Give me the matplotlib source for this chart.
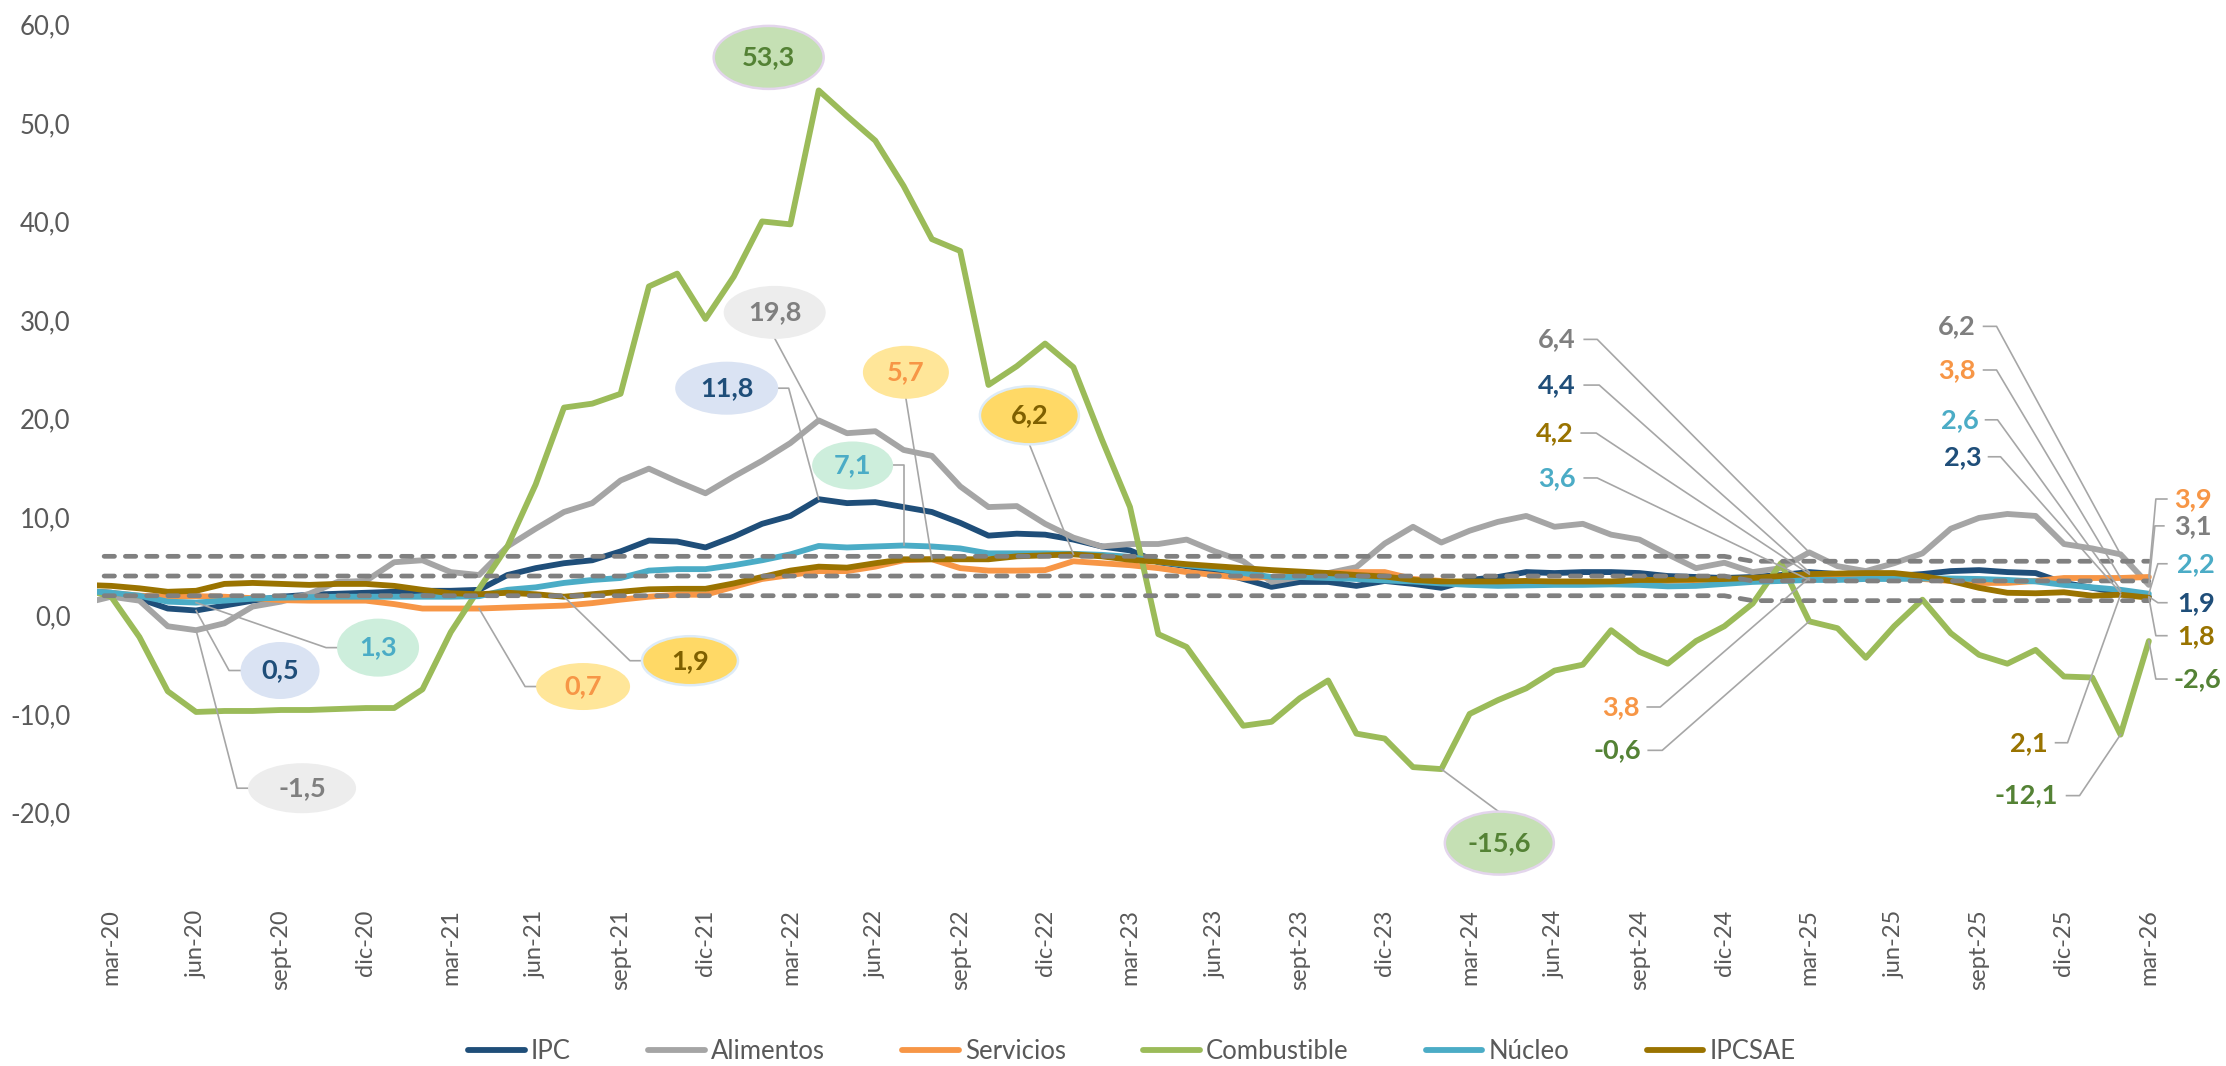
import numpy as np
import matplotlib
matplotlib.use("Agg")
import matplotlib.pyplot as plt
import matplotlib.transforms as mtransforms
from matplotlib.patches import Ellipse
from matplotlib.lines import Line2D

plt.rcParams["font.family"] = ["Lato", "DejaVu Sans"]

# ---------------------------------------------------------------- data
MONTHS = ["ene", "feb", "mar", "abr", "may", "jun",
          "jul", "ago", "sept", "oct", "nov", "dic"]
# monthly periods feb-20 ... mar-26 (feb-20 only feeds the clipped left edge)
periods = [f"{MONTHS[(1 + k) % 12]}-{20 + (1 + k) // 12}" for k in range(74)]

ipc = [2.5,
       2.3, 1.7, 0.7, 0.5, 1.0, 1.5, 1.9, 2.1, 2.2, 2.3, 2.4, 2.5,
       2.5, 2.6, 4.1, 4.8, 5.3, 5.6, 6.5, 7.6, 7.5, 6.9, 8.0, 9.3,
       10.1, 11.8, 11.4, 11.5, 11.0, 10.5, 9.4, 8.1, 8.3, 8.2, 7.7, 7.0,
       6.6, 5.4, 5.0, 4.5, 3.7, 2.9, 3.4, 3.4, 3.0, 3.5, 3.2, 2.8,
       3.6, 3.9, 4.4, 4.3, 4.4, 4.4, 4.3, 4.0, 3.9, 3.8, 3.9, 4.1,
       4.4, 4.2, 4.0, 4.0, 4.2, 4.5, 4.6, 4.4, 4.3, 3.3, 2.8, 2.3, 1.9]

alimentos = [1.2,
             1.9, 1.5, -1.1, -1.5, -0.8, 0.9, 1.4, 2.2, 3.4, 3.5, 5.4, 5.6,
             4.4, 4.1, 7.0, 8.8, 10.5, 11.4, 13.7, 14.9, 13.6, 12.4, 14.1, 15.7,
             17.5, 19.8, 18.5, 18.7, 16.8, 16.2, 13.1, 11.0, 11.1, 9.3, 7.9, 7.0,
             7.25, 7.25, 7.7, 6.5, 5.5, 3.4, 3.9, 4.3, 4.9, 7.3, 9.0, 7.4,
             8.6, 9.5, 10.1, 9.0, 9.3, 8.2, 7.7, 6.2, 4.8, 5.35, 4.4, 4.8,
             6.4, 5.0, 4.5, 5.3, 6.3, 8.8, 9.9, 10.3, 10.1, 7.25, 6.8, 6.2, 3.1]

servicios = [2.4,
             2.3, 2.0, 1.9, 1.95, 1.9, 1.75, 1.55, 1.5, 1.5, 1.5, 1.15, 0.7,
             0.7, 0.7, 0.8, 0.9, 1.0, 1.25, 1.6, 1.9, 2.1, 2.1, 2.9, 3.7,
             4.1, 4.5, 4.5, 4.95, 5.6, 5.7, 4.8, 4.55, 4.55, 4.6, 5.5, 5.3,
             5.1, 4.8, 4.4, 4.1, 3.8, 3.9, 4.1, 4.3, 4.4, 4.4, 3.7, 3.5,
             3.2, 3.2, 3.3, 3.3, 3.3, 3.4, 3.5, 3.5, 3.6, 3.6, 3.7, 3.8,
             3.8, 3.9, 3.9, 3.8, 3.7, 3.5, 3.3, 3.3, 3.5, 3.8, 3.8, 3.8, 3.9]

combustible = [2.7,
               1.9, -2.2, -7.7, -9.8, -9.7, -9.7, -9.6, -9.6, -9.5, -9.4, -9.4, -7.5,
               -1.7, 2.7, 7.0, 13.3, 21.1, 21.5, 22.5, 33.4, 34.7, 30.1, 34.4, 40.0,
               39.7, 53.3, 50.7, 48.2, 43.6, 38.2, 37.0, 23.4, 25.3, 27.6, 25.2, 17.9,
               11.0, -1.9, -3.2, -7.2, -11.2, -10.8, -8.4, -6.6, -12.0, -12.5, -15.4, -15.6,
               -10.0, -8.6, -7.4, -5.6, -5.0, -1.5, -3.7, -4.9, -2.6, -1.1, 1.2, 5.3,
               -0.6, -1.3, -4.3, -1.1, 1.6, -1.8, -4.0, -4.9, -3.5, -6.2, -6.3, -12.1, -2.6]

nucleo = [2.5,
          2.3, 2.0, 1.4, 1.3, 1.5, 1.7, 1.8, 1.85, 1.9, 1.9, 1.9, 1.9,
          1.9, 1.95, 2.6, 2.85, 3.3, 3.6, 3.8, 4.55, 4.7, 4.7, 5.1, 5.6,
          6.2, 7.05, 6.9, 7.0, 7.1, 7.0, 6.8, 6.3, 6.3, 6.3, 6.25, 6.15,
          5.95, 5.45, 5.1, 4.8, 4.3, 3.9, 3.9, 3.8, 3.7, 3.55, 3.45, 3.25,
          3.1, 3.0, 3.05, 3.1, 3.1, 3.15, 3.1, 2.95, 3.0, 3.2, 3.4, 3.5,
          3.6, 3.6, 3.7, 3.7, 3.75, 3.75, 3.7, 3.6, 3.45, 3.1, 2.85, 2.6, 2.2]

ipcsae = [3.1,
          3.0, 2.75, 2.4, 2.5, 3.2, 3.3, 3.2, 3.1, 3.2, 3.2, 3.0, 2.6,
          2.25, 2.15, 2.3, 2.15, 1.9, 2.15, 2.4, 2.65, 2.7, 2.7, 3.25, 3.9,
          4.55, 4.95, 4.85, 5.3, 5.7, 5.7, 5.7, 5.7, 6.0, 6.1, 6.2, 6.0,
          5.65, 5.45, 5.2, 5.0, 4.8, 4.6, 4.45, 4.3, 4.1, 3.95, 3.6, 3.45,
          3.45, 3.45, 3.5, 3.45, 3.45, 3.45, 3.6, 3.6, 3.65, 3.7, 3.8, 4.0,
          4.2, 4.25, 4.3, 4.3, 4.0, 3.5, 2.8, 2.3, 2.25, 2.35, 2.0, 2.1, 1.8]

# inflation target band (upper, centre, lower)
meta_sup = [6.0, 6.0, 6.0, 6.0, 6.0, 6.0, 6.0, 6.0, 6.0, 6.0, 6.0, 6.0, 6.0,
            6.0, 6.0, 6.0, 6.0, 6.0, 6.0, 6.0, 6.0, 6.0, 6.0, 6.0, 6.0,
            6.0, 6.0, 6.0, 6.0, 6.0, 6.0, 6.0, 6.0, 6.0, 6.0, 6.0, 6.0,
            6.0, 6.0, 6.0, 6.0, 6.0, 6.0, 6.0, 6.0, 6.0, 6.0, 6.0, 6.0,
            6.0, 6.0, 6.0, 6.0, 6.0, 6.0, 6.0, 6.0, 6.0, 6.0, 5.5, 5.5,
            5.5, 5.5, 5.5, 5.5, 5.5, 5.5, 5.5, 5.5, 5.5, 5.5, 5.5, 5.5, 5.5]
meta_centro = [4.0, 4.0, 4.0, 4.0, 4.0, 4.0, 4.0, 4.0, 4.0, 4.0, 4.0, 4.0, 4.0,
               4.0, 4.0, 4.0, 4.0, 4.0, 4.0, 4.0, 4.0, 4.0, 4.0, 4.0, 4.0,
               4.0, 4.0, 4.0, 4.0, 4.0, 4.0, 4.0, 4.0, 4.0, 4.0, 4.0, 4.0,
               4.0, 4.0, 4.0, 4.0, 4.0, 4.0, 4.0, 4.0, 4.0, 4.0, 4.0, 4.0,
               4.0, 4.0, 4.0, 4.0, 4.0, 4.0, 4.0, 4.0, 4.0, 4.0, 3.5, 3.5,
               3.5, 3.5, 3.5, 3.5, 3.5, 3.5, 3.5, 3.5, 3.5, 3.5, 3.5, 3.5, 3.5]
meta_inf = [2.0, 2.0, 2.0, 2.0, 2.0, 2.0, 2.0, 2.0, 2.0, 2.0, 2.0, 2.0, 2.0,
            2.0, 2.0, 2.0, 2.0, 2.0, 2.0, 2.0, 2.0, 2.0, 2.0, 2.0, 2.0,
            2.0, 2.0, 2.0, 2.0, 2.0, 2.0, 2.0, 2.0, 2.0, 2.0, 2.0, 2.0,
            2.0, 2.0, 2.0, 2.0, 2.0, 2.0, 2.0, 2.0, 2.0, 2.0, 2.0, 2.0,
            2.0, 2.0, 2.0, 2.0, 2.0, 2.0, 2.0, 2.0, 2.0, 2.0, 1.5, 1.5,
            1.5, 1.5, 1.5, 1.5, 1.5, 1.5, 1.5, 1.5, 1.5, 1.5, 1.5, 1.5, 1.5]

series = {
    "IPC": ipc,
    "Alimentos": alimentos,
    "Servicios": servicios,
    "Combustible": combustible,
    "Núcleo": nucleo,
    "IPCSAE": ipcsae,
}

yticks = [-20, -10, 0, 10, 20, 30, 40, 50, 60]

# ---------------------------------------------------------------- styles
COLORS = {
    "IPC": "#1F4E79",
    "Alimentos": "#A5A5A5",
    "Servicios": "#F79646",
    "Combustible": "#9BBB59",
    "Núcleo": "#4BACC6",
    "IPCSAE": "#9A7300",
}
LABEL_COLORS = {
    "IPC": "#1F4E79",
    "Alimentos": "#7F7F7F",
    "Servicios": "#F79646",
    "Combustible": "#548235",
    "Núcleo": "#4BACC6",
    "IPCSAE": "#997300",
}
BUBBLE_STYLE = {
    "IPC": dict(fc="#DAE3F3", ec="none", tc="#1F4E79"),
    "Alimentos": dict(fc="#EDEDED", ec="none", tc="#7F7F7F"),
    "Servicios": dict(fc="#FFE699", ec="none", tc="#F79646"),
    "Combustible": dict(fc="#C5E0B4", ec="#E3D5EC", tc="#548235"),
    "Núcleo": dict(fc="#CDEEDC", ec="none", tc="#4BACC6"),
    "IPCSAE": dict(fc="#FFD966", ec="#DDEBF7", tc="#7F6000"),
}
TEXT_GRAY = "#595959"
LEADER = "#A6A6A6"
FS = 18.5          # axis / legend text
FS_LBL = 19.5      # value labels

# ---------------------------------------------------------------- figure
fig = plt.figure(figsize=(22.26, 10.66), dpi=100)
ax = fig.add_axes([0.04358, 0.1547, 0.92812, 0.82241])

x = np.arange(len(periods)) - 1      # mar-20 sits at 0

lines = []
for name, vals in series.items():
    ln, = ax.plot(x, vals, color=COLORS[name], lw=4.2, label=name,
                  solid_capstyle="round", solid_joinstyle="round", zorder=2)
    lines.append(ln)

for band in (meta_sup, meta_centro, meta_inf):
    ax.plot(x, band, color="#808080", lw=3.4, linestyle=(0, (2.2, 2.3)),
            dash_capstyle="round", zorder=3)

ax.set_xlim(-0.5, 72.5)
ax.set_ylim(-29, 60)

tick_pos = list(range(0, 73, 3))
ax.set_xticks(tick_pos)
ax.set_xticklabels([periods[p + 1] for p in tick_pos], rotation=90,
                   fontsize=17, color=TEXT_GRAY)
ax.set_yticks(yticks)
ax.set_yticklabels([f"{v:.1f}".replace(".", ",") for v in yticks],
                   fontsize=FS, color=TEXT_GRAY)
ax.tick_params(axis="x", length=0, pad=6)
ax.tick_params(axis="y", length=0, pad=19)
for sp in ax.spines.values():
    sp.set_visible(False)


# ---------------------------------------------------------------- labels
def fmt(v):
    return f"{v:.1f}".replace(".", ",")


def anchor(name, period):
    """Pixel frame (y pointing down) centred on a data point."""
    k = periods.index(period)
    return (mtransforms.Affine2D().scale(1, -1)
            + mtransforms.ScaledTranslation(x[k], series[name][k], ax.transData)), series[name][k]


def leader(tr, pts):
    xs = [0] + [p[0] for p in pts]
    ys = [0] + [p[1] for p in pts]
    ax.add_line(Line2D(xs, ys, transform=tr, color=LEADER, lw=1.2,
                       zorder=4, clip_on=False))


# bubble labels: series, period, centre offset (px), ellipse size (px), leader path
bubbles = [
    ("Combustible", "abr-22", (-50, -33), (110, 63), []),
    ("Combustible", "feb-24", (58, 74), (109, 63), [(58, 43)]),
    ("Alimentos", "abr-22", (-44, -108), (102, 53), [(-44, -82)]),
    ("IPC", "abr-22", (-92, -111), (103, 53), [(-30, -111), (-41, -111)]),
    ("Servicios", "ago-22", (-26, -187), (86, 53), [(-26, -161)]),
    ("Núcleo", "jul-22", (-51, -80), (81, 48), [(0, -80), (-11, -80)]),
    ("IPCSAE", "ene-23", (-44, -139), (99, 58), [(-44, -110)]),
    ("IPC", "jun-20", (84, 60), (79, 57), [(33, 60), (45, 60)]),
    ("Núcleo", "jun-20", (182, 45), (82, 58), [(130, 45), (141, 45)]),
    ("Alimentos", "jun-20", (106, 158), (108, 50), [(41, 158), (52, 158)]),
    ("Servicios", "abr-21", (104, 78), (94, 47), [(46, 78), (58, 78)]),
    ("IPCSAE", "jul-21", (126, 64), (96, 49), [(66, 64), (78, 64)]),
]

for name, period, (dx, dy), (w, h), path in bubbles:
    tr, v = anchor(name, period)
    st = BUBBLE_STYLE[name]
    if path:
        leader(tr, path)
    ax.add_patch(Ellipse((dx, dy), w, h, transform=tr, facecolor=st["fc"],
                         edgecolor=st["ec"], lw=1.8, zorder=5, clip_on=False))
    ax.text(dx, dy, fmt(v), transform=tr, ha="center", va="center",
            fontsize=FS_LBL, fontweight="bold", color=st["tc"], zorder=6)

# plain labels: series, period, text centre offset (px), leader path
plain = [
    ("Alimentos", "mar-25", (-252, -213), [(-212, -213), (-225, -213)]),
    ("IPC", "mar-25", (-252, -187), [(-210, -187), (-225, -187)]),
    ("IPCSAE", "mar-25", (-254, -141), [(-213, -141), (-228, -141)]),
    ("Núcleo", "mar-25", (-252, -102), [(-212, -102), (-225, -102)]),
    ("Servicios", "mar-25", (-188, 129), [(-149, 129), (-162, 129)]),
    ("Combustible", "mar-25", (-192, 129), [(-147, 129), (-161, 129)]),
    ("Alimentos", "feb-26", (-164, -228), [(-124, -228), (-137, -228)]),
    ("Servicios", "feb-26", (-164, -208), [(-124, -208), (-137, -208)]),
    ("Núcleo", "feb-26", (-161, -170), [(-123, -170), (-135, -170)]),
    ("IPC", "feb-26", (-158, -136), [(-120, -136), (-132, -136)]),
    ("IPCSAE", "feb-26", (-92, 148), [(-53, 148), (-65, 148)]),
    ("Combustible", "feb-26", (-94, 61), [(-41, 61), (-54, 61)]),
    ("Servicios", "mar-26", (44, -78), [(7, -78), (18, -78)]),
    ("Alimentos", "mar-26", (44, -59), [(6, -59), (15, -59)]),
    ("Núcleo", "mar-26", (47, -30), [(9, -30), (18, -30)]),
    ("IPC", "mar-26", (47, 6), [(9, 6), (18, 6)]),
    ("IPCSAE", "mar-26", (47, 38), [(7, 38), (18, 38)]),
    ("Combustible", "mar-26", (49, 38), [(7, 38), (18, 38)]),
]

for name, period, (dx, dy), path in plain:
    tr, v = anchor(name, period)
    leader(tr, path)
    ax.text(dx, dy, fmt(v), transform=tr, ha="center", va="center",
            fontsize=FS_LBL, fontweight="bold", color=LABEL_COLORS[name],
            zorder=6, clip_on=False)

# ---------------------------------------------------------------- legend
fig.legend(handles=lines, labels=list(series.keys()), loc="center",
           bbox_to_anchor=(0.5085, 0.0135), ncol=6, frameon=False,
           prop={"size": FS}, labelcolor=TEXT_GRAY, handlelength=2.2,
           handletextpad=0.25, columnspacing=3.0)

fig.savefig("out.png", dpi=100)
